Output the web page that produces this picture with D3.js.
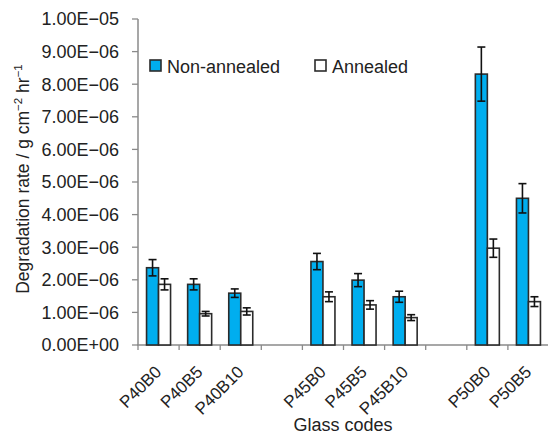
<!DOCTYPE html>
<html><head><meta charset="utf-8">
<script src="https://d3js.org/d3.v7.min.js"></script>
<style>body{margin:0;background:#fff}svg{display:block;font-family:"Liberation Sans",Arial,sans-serif}</style>
</head><body><svg id="c" width="548" height="436"></svg>
<script>
const categories = ["P40B0","P40B5","P40B10","","P45B0","P45B5","P45B10","","P50B0","P50B5"];
const nonAnnealed = [2.37e-6,1.86e-6,1.59e-6,null,2.56e-6,1.99e-6,1.48e-6,null,8.31e-6,4.50e-6];
const nonAnnealedErr = [0.25e-6,0.17e-6,0.13e-6,null,0.25e-6,0.20e-6,0.17e-6,null,0.83e-6,0.45e-6];
const annealed = [1.86e-6,0.96e-6,1.03e-6,null,1.48e-6,1.23e-6,0.84e-6,null,2.97e-6,1.33e-6];
const annealedErr = [0.17e-6,0.07e-6,0.11e-6,null,0.15e-6,0.13e-6,0.09e-6,null,0.28e-6,0.15e-6];
const yTicks = [0,1e-6,2e-6,3e-6,4e-6,5e-6,6e-6,7e-6,8e-6,9e-6,1e-5];
const yTickLabels = ["0.00E+00","1.00E\u221206","2.00E\u221206","3.00E\u221206","4.00E\u221206","5.00E\u221206","6.00E\u221206","7.00E\u221206","8.00E\u221206","9.00E\u221206","1.00E\u221205"];
const seriesNames = ["Non-annealed","Annealed"];
const seriesColors = ["#00aeef","#ffffff"];

const svg = d3.select("#c");
const x = d3.scaleBand().domain(d3.range(categories.length)).range([138,549]).padding(0);
const xs = d3.scaleBand().domain([0,1]).range([-12,12]);
const y = d3.scaleLinear().domain([0,1e-5]).range([345,19]);
const axisColor = "#8a8a8a";
const fs = 18;

// y axis
svg.append("line").attr("x1",138).attr("x2",138).attr("y1",y(1e-5)).attr("y2",y(0)).attr("stroke",axisColor).attr("stroke-width",1.5);
const yt = svg.append("g").selectAll("g").data(yTicks).join("g");
yt.append("line").attr("x1",132).attr("x2",138).attr("y1",d=>y(d)).attr("y2",d=>y(d)).attr("stroke",axisColor).attr("stroke-width",1.3);
yt.append("text").attr("x",119).attr("y",d=>y(d)).attr("dy","0.35em").attr("text-anchor","end")
  .attr("font-size",fs).attr("fill","#222").text((d,i)=>yTickLabels[i]);

// x axis
svg.append("line").attr("x1",137).attr("x2",548).attr("y1",y(0)).attr("y2",y(0)).attr("stroke",axisColor).attr("stroke-width",1.5);
const bounds = d3.range(categories.length).map(i=>x(i)).concat([x.range()[1]]);
svg.append("g").selectAll("line").data(bounds).join("line")
  .attr("x1",d=>d).attr("x2",d=>d).attr("y1",y(0)).attr("y2",y(0)+5).attr("stroke",axisColor).attr("stroke-width",1.3);

// bars
const series = [
  {vals:nonAnnealed, errs:nonAnnealedErr, color:seriesColors[0]},
  {vals:annealed, errs:annealedErr, color:seriesColors[1]}
];
series.forEach((s,si)=>{
  const data = d3.range(categories.length).filter(i=>s.vals[i]!=null);
  const g = svg.append("g");
  g.selectAll("rect").data(data).join("rect")
    .attr("x",i=>x(i)+x.bandwidth()/2+xs(si)).attr("width",xs.bandwidth())
    .attr("y",i=>y(s.vals[i])).attr("height",i=>y(0)-y(s.vals[i]))
    .attr("fill",s.color).attr("stroke","#2b2b2b").attr("stroke-width",1.6);
  const eg = g.selectAll("g").data(data).join("g").attr("stroke","#111").attr("stroke-width",1.6);
  const cx = i=>x(i)+x.bandwidth()/2+xs(si)+xs.bandwidth()/2;
  eg.append("line").attr("x1",cx).attr("x2",cx).attr("y1",i=>y(s.vals[i]+s.errs[i])).attr("y2",i=>y(s.vals[i]-s.errs[i]));
  eg.append("line").attr("x1",i=>cx(i)-4).attr("x2",i=>cx(i)+4).attr("y1",i=>y(s.vals[i]+s.errs[i])).attr("y2",i=>y(s.vals[i]+s.errs[i]));
  eg.append("line").attr("x1",i=>cx(i)-4).attr("x2",i=>cx(i)+4).attr("y1",i=>y(s.vals[i]-s.errs[i])).attr("y2",i=>y(s.vals[i]-s.errs[i]));
});

// x labels
svg.append("g").selectAll("text").data(d3.range(categories.length).filter(i=>categories[i]!==""))
  .join("text")
  .attr("transform",i=>`translate(${x(i)+x.bandwidth()/2+4},${y(0)+28}) rotate(-45)`)
  .attr("text-anchor","end").attr("font-size",17).attr("fill","#222").text(i=>categories[i]);

svg.append("text").attr("x",343).attr("y",431).attr("text-anchor","middle").attr("font-size",fs).attr("fill","#222").text("Glass codes");

// y title
const yt2 = svg.append("text").attr("transform","translate(29,179) rotate(-90)").attr("text-anchor","middle").attr("font-size",17.5).attr("fill","#222");
yt2.append("tspan").text("Degradation rate / g cm");
yt2.append("tspan").attr("dy",-7).attr("font-size",11.5).text("\u22122");
yt2.append("tspan").attr("dy",7).text(" hr");
yt2.append("tspan").attr("dy",-7).attr("font-size",11.5).text("\u22121");

// legend
const legX = [150,315];
seriesNames.forEach((n,i)=>{
  svg.append("rect").attr("x",legX[i]).attr("y",60).attr("width",11).attr("height",11)
    .attr("fill",seriesColors[i]).attr("stroke","#2b2b2b").attr("stroke-width",1.6);
  svg.append("text").attr("x",legX[i]+17).attr("y",73).attr("font-size",fs).attr("fill","#222").text(n);
});
</script></body></html>
